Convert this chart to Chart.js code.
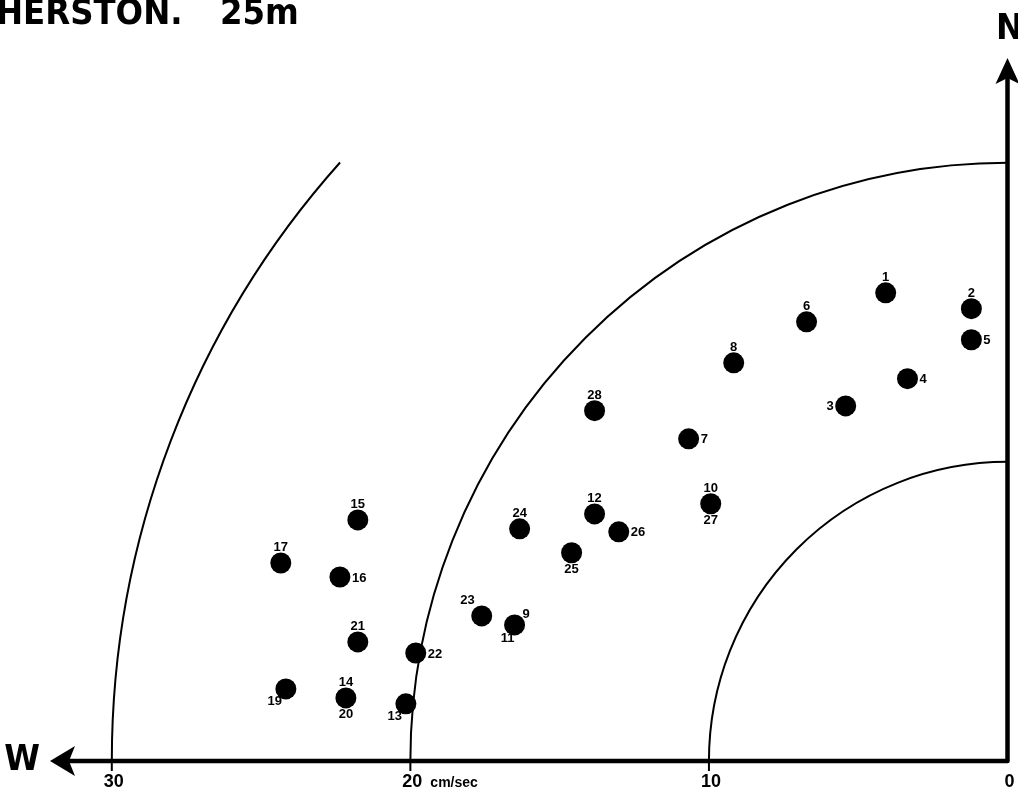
<!DOCTYPE html>
<html>
<head>
<meta charset="utf-8">
<script src="https://cdn.jsdelivr.net/npm/chart.js@4/dist/chart.umd.min.js"></script>
<style>
  body { margin: 0; background: #fff; }
  .wrap { width: 1018px; height: 797px; position: relative; }
</style>
</head>
<body>
<div class="wrap"><canvas id="chart"></canvas></div>
<script>
// speed west (cm/sec) and speed north (cm/sec) for each numbered observation
const westSpeed  = [4.08, 1.21, 1.21, 3.35, 5.42, 6.73, 9.17, 10.68, 13.83, 9.94, 13.83, 13.02, 16.34, 14.60, 17.61, 16.51, 19.82, 20.15, 21.76, 24.34, 22.36, 21.76, 22.16, 24.17]
const northSpeed = [15.65, 15.12, 14.08, 12.78, 11.87, 14.68, 13.31, 10.77, 11.71, 8.60, 8.26, 7.66, 7.76, 6.96, 4.85, 4.55, 3.61, 1.91, 8.06, 6.62, 6.15, 3.98, 2.11, 2.41]
const pointNames = ['1', '2', '5', '4', '3', '6', '8', '7', '28', '10', '12', '26', '24', '25', '23', '9', '22', '13', '15', '17', '16', '21', '14', '19']
const secondNames = ['', '', '', '', '', '', '', '', '', '27', '', '', '', '', '', '11', '', '', '', '', '', '', '20', '']
const rings = [10, 20, 30]
const tickValues = [30, 20, 10, 0]

// where each number sits next to its dot
const namePos = ['top', 'top', 'right', 'right', 'left', 'top', 'top', 'right', 'top', 'top', 'top', 'right', 'top', 'bottom', 'topleft', 'topright', 'right', 'bottomleft', 'top', 'top', 'right', 'top', 'top', 'bottomleft']
const offsets = {
  top: [0, -9, 'center', 'bottom'],
  bottom: [0, 10, 'center', 'top'],
  right: [12, 1, 'left', 'middle'],
  left: [-12, 1, 'right', 'middle'],
  topleft: [-7, -9, 'right', 'bottom'],
  topright: [8, -4, 'left', 'bottom'],
  bottomleft: [-4, 6, 'right', 'top']
}

const overlay = {
  id: 'overlay',
  beforeDatasetsDraw(chart) {
    const { ctx, scales: { x, y } } = chart
    const cx = x.getPixelForValue(0)
    const cy = y.getPixelForValue(0)
    ctx.save()
    ctx.strokeStyle = '#000'
    ctx.fillStyle = '#000'

    // speed rings
    ctx.lineWidth = 2
    rings.forEach(r => {
      const rx = cx - x.getPixelForValue(r)
      const ry = cy - y.getPixelForValue(r)
      const end = r === 30 ? Math.PI + 0.73 : Math.PI * 1.5
      ctx.beginPath()
      ctx.ellipse(cx, cy, rx, ry, 0, Math.PI, end)
      ctx.stroke()
      // small tick below the axis
      const px = x.getPixelForValue(r)
      ctx.beginPath()
      ctx.moveTo(px, cy)
      ctx.lineTo(px, cy + 10)
      ctx.stroke()
    })

    // axes
    const left = chart.chartArea.left
    const top = chart.chartArea.top
    ctx.lineWidth = 4.5
    ctx.lineJoin = 'round'
    ctx.beginPath()
    ctx.moveTo(left + 18, cy)
    ctx.lineTo(cx, cy)
    ctx.lineTo(cx, top + 18)
    ctx.stroke()

    // arrow heads
    ctx.beginPath()
    ctx.moveTo(left, cy)
    ctx.lineTo(left + 25, cy - 15)
    ctx.lineTo(left + 19, cy)
    ctx.lineTo(left + 25, cy + 15)
    ctx.closePath()
    ctx.fill()
    ctx.beginPath()
    ctx.moveTo(cx, top)
    ctx.lineTo(cx - 12, top + 26)
    ctx.lineTo(cx, top + 20)
    ctx.lineTo(cx + 12, top + 26)
    ctx.closePath()
    ctx.fill()

    // tick labels
    ctx.font = 'bold 18px "Liberation Sans", Arial, sans-serif'
    ctx.textAlign = 'center'
    ctx.textBaseline = 'top'
    tickValues.forEach(v => {
      ctx.fillText(String(v), x.getPixelForValue(v) + 2, cy + 12)
    })
    ctx.font = 'bold 14px "Liberation Sans", Arial, sans-serif'
    ctx.textAlign = 'left'
    ctx.fillText('cm/sec', x.getPixelForValue(20) + 20, cy + 15)

    // compass letters
    ctx.font = 'bold 36px "DejaVu Sans Condensed", "Liberation Sans Narrow", sans-serif'
    ctx.textAlign = 'center'
    ctx.textBaseline = 'middle'
    ctx.fillText('W', 22, cy)
    ctx.fillText('N', cx + 2, 30)

    // title (cut off at the page edge)
    ctx.font = 'bold 36px "DejaVu Sans Condensed", "Liberation Sans Narrow", sans-serif'
    ctx.textAlign = 'left'
    ctx.textBaseline = 'alphabetic'
    ctx.fillText('HERSTON.', -4, 24)
    ctx.fillText('25m', 220, 24)
    ctx.restore()
  },
  afterDatasetsDraw(chart) {
    const { ctx } = chart
    const meta = chart.getDatasetMeta(0)
    ctx.save()
    ctx.fillStyle = '#000'
    ctx.font = 'bold 13px "Liberation Sans", Arial, sans-serif'
    meta.data.forEach((pt, i) => {
      const o = offsets[namePos[i]]
      ctx.textAlign = o[2]
      ctx.textBaseline = o[3]
      ctx.fillText(pointNames[i], pt.x + o[0], pt.y + o[1])
      if (secondNames[i]) {
        if (namePos[i] === 'topright') {
          ctx.textAlign = 'right'
          ctx.textBaseline = 'top'
          ctx.fillText(secondNames[i], pt.x, pt.y + 7)
        } else {
          ctx.textAlign = 'center'
          ctx.textBaseline = 'top'
          ctx.fillText(secondNames[i], pt.x, pt.y + 10)
        }
      }
    })
    ctx.restore()
  }
}

const ctx = document.getElementById('chart')
const chart = new Chart(ctx, {
  type: 'scatter',
  data: {
    datasets: [{
      data: westSpeed.map((w, i) => ({ x: w, y: northSpeed[i] })),
      backgroundColor: '#000',
      borderColor: '#000',
      borderWidth: 0,
      pointRadius: 10.5,
      pointHoverRadius: 10.5
    }]
  },
  options: {
    responsive: true,
    maintainAspectRatio: false,
    animation: false,
    events: [],
    layout: { padding: { left: 50, right: 9, top: 58, bottom: 36 } },
    plugins: { legend: { display: false }, tooltip: { enabled: false } },
    scales: {
      x: { type: 'linear', reverse: true, min: 0, max: 32.07, display: false },
      y: { type: 'linear', min: 0, max: 23.5, display: false }
    }
  },
  plugins: [overlay]
})
</script>
</body>
</html>
